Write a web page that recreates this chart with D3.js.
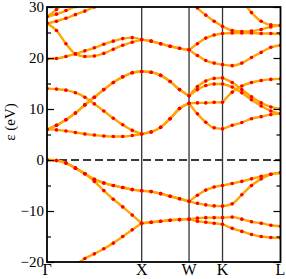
<!DOCTYPE html>
<html><head><meta charset="utf-8">
<script src="https://cdn.jsdelivr.net/npm/d3@7"></script>
<style>body{margin:0;background:#fff}svg{display:block}</style>
</head><body><svg id="c" width="286" height="279"></svg>
<script>
const kLabels = ["Γ","X","W","K","L"];
const kTicks = [0, 1, 1.5, 1.8536, 2.4659];
const kGrid = [0,0.1,0.2,0.3,0.4,0.5,0.6,0.7,0.8,0.9,1.0,
  1.1,1.2,1.3,1.4,1.5,
  1.5884,1.6768,1.7652,1.8536,
  1.9557,2.0577,2.1598,2.2618,2.3639,2.4659];
const yMajor = [-20,-10,0,10,20,30];
const yMinor = [-15,-5,5,15,25];
const _ = null;

const band1 = [0,-0.1,-0.6,-1.6,-2.7,-3.8,-4.5,-5.0,-5.4,-5.8,-6.05, -6.2,-6.6,-7.1,-7.6,-8.1, -6.9,-5.9,-5.3,-5.0, -4.6,-4.2,-3.7,-3.2,-2.8,-2.5];
const band2 = [0,-0.1,-0.6,-1.6,-2.7,-3.8,-4.5,-5.0,-5.4,-5.8,-6.05, -6.2,-6.6,-7.1,-7.6,-8.1, -8.5,-8.8,-9.0,-9.05, -8.6,-6.8,-5.0,-3.7,-2.8,-2.5];
const band3 = [0,-0.1,-0.6,-1.6,-2.7,-4.2,-6.0,-7.7,-9.2,-10.8,-12.4, -12.2,-12.0,-11.8,-11.7,-11.6, -11.4,-11.3,-11.3,-11.3, -11.2,-11.6,-12.1,-12.4,-12.8,-13.0];
const band4 = [-24,-23.5,-22.2,-20.6,-19.3,-18.4,-17.4,-16.3,-15.0,-13.7,-12.4, -12.2,-12.0,-11.8,-11.7,-11.6, -12.0,-12.2,-12.4,-12.6, -13.4,-14.0,-14.6,-15.0,-15.2,-15.3];
const band5 = [6.0,5.9,5.7,5.4,5.1,4.9,4.7,4.6,4.6,4.8,5.1, 5.5,6.4,8.1,10.1,11.1, 11.2,11.2,11.3,11.3, 13.3,14.5,15.2,15.6,15.8,15.9];
const band6 = [14.0,13.9,13.7,13.2,12.3,11.0,9.6,8.2,6.9,5.8,5.1, 5.5,6.4,8.1,10.1,11.1, 9.05,7.4,6.3,6.1, 6.8,7.35,8.1,8.5,8.9,9.1];
const band7 = [6.0,6.8,7.9,9.2,10.8,12.3,13.8,15.2,16.3,17.1,17.35, 17.2,16.6,15.4,13.8,12.6, 14.4,15.5,16.0,16.1, 15.2,13.8,12.4,11.2,10.4,10.0];
const band8 = [6.0,6.8,7.9,9.2,10.8,12.3,13.8,15.2,16.3,17.1,17.35, 17.2,16.6,15.4,13.8,12.6, 13.8,14.6,14.9,14.9, 14.3,13.2,11.8,10.6,9.6,9.1];
const band9 = [19.8,19.9,20.3,20.8,21.4,22.0,22.7,23.3,23.8,24.0,23.6, 23.3,22.8,22.3,21.9,21.6, 22.8,23.9,24.5,24.8, 24.9,24.9,24.9,24.8,24.8,24.7];
const band10 = [26.8,25.4,22.8,20.8,20.3,20.4,20.9,21.7,22.5,23.1,23.6, 23.3,22.8,22.3,21.9,21.6, 20.5,19.5,19.0,18.7, 18.5,19.0,20.1,21.1,22.1,22.5];
const band11 = [26.8,27.2,27.8,28.5,29.2,30.0,30.9,_,_,_,_, _,_,_,_,_, _,_,_,_, _,_,_,_,_,_];
const band12 = [28.1,28.6,29.3,30.1,31.0,_,_,_,_,_,_, _,_,_,_,_, _,_,_,_, _,_,_,_,_,_];
const band13 = [28.1,29.5,31.2,_,_,_,_,_,_,_,_, _,_,_,_,_, _,_,_,_, _,_,_,_,_,_];
const band14 = [_,_,_,_,_,_,_,_,_,_,_, _,_,_,_,31.5, 29.8,28.4,27.2,26.2, 25.4,25.2,25.3,25.6,26.1,26.4];
const band15 = [_,_,_,_,_,_,_,_,_,_,_, _,_,_,_,_, _,_,_,_, _,31.4,28.9,27.2,26.5,26.4];
const bands = [band1,band2,band3,band4,band5,band6,band7,band8,band9,band10,band11,band12,band13,band14,band15];

const m = {l:47, r:280.5, t:7, b:262};
const svg = d3.select("#c");
const x = d3.scaleLinear().domain([kTicks[0], kTicks[kTicks.length-1]]).range([m.l, m.r]);
const y = d3.scaleLinear().domain([-20, 30]).range([m.b, m.t]);

svg.append("defs").append("clipPath").attr("id","clip")
  .append("rect").attr("x",m.l).attr("y",m.t).attr("width",m.r-m.l).attr("height",m.b-m.t);

const segIdx = kTicks.map(t => kGrid.findIndex(k => Math.abs(k - t) < 1e-6));
const plot = svg.append("g").attr("clip-path","url(#clip)");

plot.selectAll("line.kp").data(kTicks.slice(1, -1)).join("line")
  .attr("x1", d => x(d)).attr("x2", d => x(d))
  .attr("y1", m.t).attr("y2", m.b)
  .attr("stroke", "#333").attr("stroke-width", 1.3);

plot.append("line").attr("x1", m.l).attr("x2", m.r).attr("y1", y(0)).attr("y2", y(0))
  .attr("stroke", "#3a3a3a").attr("stroke-width", 1.8).attr("stroke-dasharray", "8,4");

const line = d3.line().x(d => x(d[0])).y(d => y(d[1])).curve(d3.curveMonotoneX);
const drawRun = run => { if (run.length > 1) plot.append("path").attr("d", line(run)).attr("fill","none").attr("stroke","#FFA500").attr("stroke-width",2.4); };

bands.forEach(b => {
  for (let s = 0; s < segIdx.length - 1; s++) {
    let run = [];
    for (let i = segIdx[s]; i <= segIdx[s+1]; i++) {
      if (b[i] === null) { drawRun(run); run = []; }
      else run.push([kGrid[i], b[i]]);
    }
    drawRun(run);
  }
});
bands.forEach(b => {
  plot.append("g").selectAll("circle").data(kGrid.map((k,i) => [k, b[i]]).filter(d => d[1] !== null)).join("circle")
    .attr("cx", d => x(d[0])).attr("cy", d => y(d[1])).attr("r", 1.8).attr("fill", "#FF0000");
});

const font = "Liberation Serif, Times New Roman, serif";
const axL = svg.append("g").attr("transform", `translate(${m.l},0)`)
  .call(d3.axisLeft(y).tickValues(yMajor).tickSize(-7).tickPadding(3).tickFormat(d3.format("d")));
axL.selectAll("text").attr("font-family", font).attr("font-size", 15).attr("fill", "#000");
svg.append("g").attr("transform", `translate(${m.l},0)`)
  .call(d3.axisLeft(y).tickValues(yMinor).tickSize(-4).tickFormat(""));
svg.append("g").attr("transform", `translate(${m.r},0)`)
  .call(d3.axisRight(y).tickValues(yMajor).tickSize(-7).tickFormat(""));
svg.append("g").attr("transform", `translate(${m.r},0)`)
  .call(d3.axisRight(y).tickValues(yMinor).tickSize(-4).tickFormat(""));
svg.selectAll(".domain").remove();
svg.selectAll(".tick line").attr("stroke", "#000").attr("stroke-width", 1.2);

svg.append("rect").attr("x", m.l).attr("y", m.t).attr("width", m.r - m.l).attr("height", m.b - m.t)
  .attr("fill", "none").attr("stroke", "#000").attr("stroke-width", 1.8);

svg.append("g").selectAll("text").data(kTicks).join("text")
  .attr("x", d => x(d)).attr("y", 275).attr("text-anchor", "middle")
  .attr("font-family", font).attr("font-size", 16).text((d,i) => kLabels[i]);

svg.append("text").attr("transform", "translate(15,122) rotate(-90)").attr("text-anchor", "middle")
  .attr("font-family", font).attr("font-size", 15).text("ε (eV)");
</script></body></html>
